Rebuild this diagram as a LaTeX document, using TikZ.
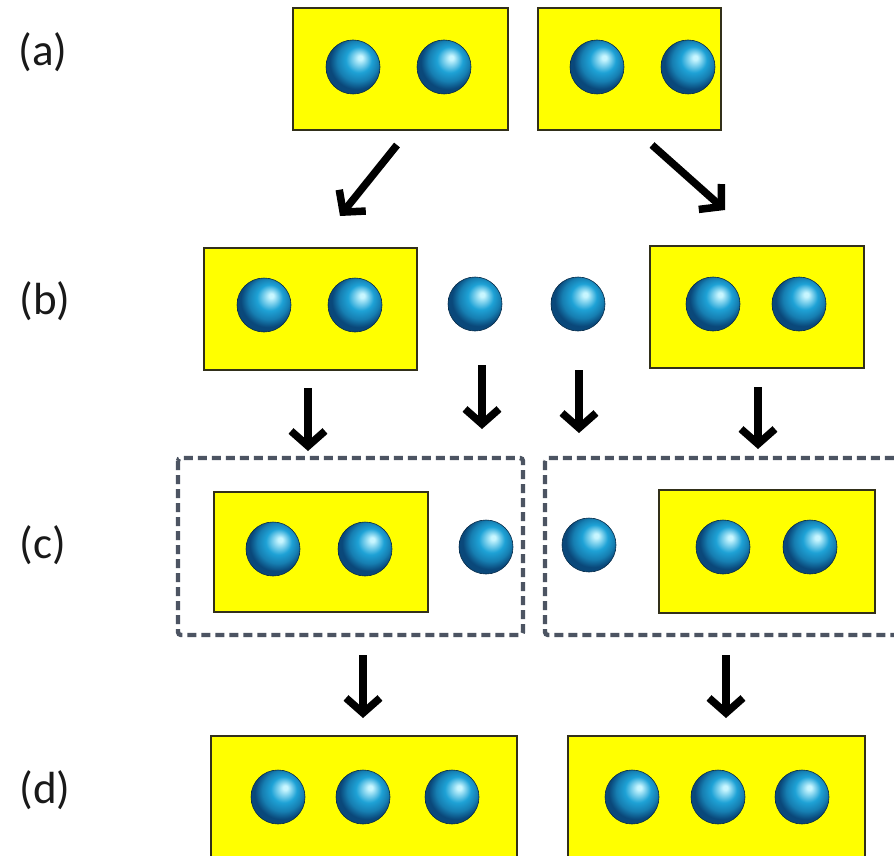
\documentclass[tikz,border=0pt]{standalone}
\usepackage{fontspec}
\setmainfont{Carlito}
\usetikzlibrary{arrows.meta}

\definecolor{boxyellow}{RGB}{255,255,0}
\definecolor{boxedge}{RGB}{50,48,26}
\definecolor{dashgray}{RGB}{76,84,98}
\definecolor{sphhi}{RGB}{200,246,255}
\definecolor{sphmid}{RGB}{30,162,214}
\definecolor{sphdk}{RGB}{10,72,122}

% glossy blue sphere, highlight towards the upper right
\pgfdeclareradialshading{bluesphere}{\pgfpoint{7bp}{9bp}}{%
  color(0bp)=(sphhi); color(2bp)=(sphhi); color(12bp)=(sphmid);
  color(19bp)=(sphmid!60!sphdk); color(25bp)=(sphdk); color(50bp)=(sphdk)}

\tikzset{
  ybox/.style={draw=boxedge, line width=2.8pt, fill=boxyellow, rectangle, inner sep=0pt},
  dbox/.style={draw=dashgray, line width=4.4pt, dash pattern=on 9pt off 5pt, rounded corners=3pt},
  sph/.style={circle, inner sep=0pt, minimum size=54pt, shading=bluesphere,
              draw=sphdk!60!black, line width=0.6pt},
  lbl/.style={font=\fontsize{45}{50}\selectfont, text=black!90, inner sep=0pt},
  flow/.style={line width=7.5pt, -{Straight Barb[length=15pt,width=34pt]}},
}

\begin{document}
\begin{tikzpicture}[x=1pt,y=-1pt]
\useasboundingbox (0,0) rectangle (894,856);
\clip (0,0) rectangle (894,856);
\fill[white] (0,0) rectangle (894,856);

% row labels
\node[lbl] (la) at (43,52) {(a)};
\node[lbl] (lb) at (45,301) {(b)};
\node[lbl] (lc) at (43,545) {(c)};
\node[lbl] (ld) at (45,790) {(d)};

% row (a)
\node[ybox, minimum width=215pt, minimum height=122pt] (a1) at (400.5,69) {};
\node[ybox, minimum width=183pt, minimum height=122pt] (a2) at (629.5,69) {};
\node[sph] (a1s1) at (353,67) {};
\node[sph] (a1s2) at (444,67) {};
\node[sph] (a2s1) at (597,67) {};
\node[sph] (a2s2) at (688,67) {};

% row (b)
\node[ybox, minimum width=213pt, minimum height=122pt] (b1) at (310.5,309) {};
\node[ybox, minimum width=214pt, minimum height=122pt] (b2) at (757,307) {};
\node[sph] (b1s1) at (264,305) {};
\node[sph] (b1s2) at (355,305) {};
\node[sph] (bf1) at (475,304) {};
\node[sph] (bf2) at (578,304) {};
\node[sph] (b2s1) at (713,304) {};
\node[sph] (b2s2) at (799,304) {};

% row (c)
\draw[dbox] (178,458) rectangle (523,635);
\draw[dbox] (545,458) rectangle (910,635);
\node[ybox, minimum width=214pt, minimum height=120pt] (c1b) at (321,552) {};
\node[ybox, minimum width=216pt, minimum height=123pt] (c2b) at (767,551.5) {};
\node[sph] (c1s1) at (273,549) {};
\node[sph] (c1s2) at (365,549) {};
\node[sph] (cf1) at (486,547) {};
\node[sph] (cf2) at (589,545) {};
\node[sph] (c2s1) at (723,547) {};
\node[sph] (c2s2) at (810,547) {};

% row (d)
\node[ybox, minimum width=306pt, minimum height=140pt] (d1) at (364,806) {};
\node[ybox, minimum width=297pt, minimum height=140pt] (d2) at (716.5,806) {};
\node[sph] (d1s1) at (278,797) {};
\node[sph] (d1s2) at (363,797) {};
\node[sph] (d1s3) at (452,797) {};
\node[sph] (d2s1) at (632,797) {};
\node[sph] (d2s2) at (718,797) {};
\node[sph] (d2s3) at (802,797) {};

% arrow end points
\coordinate (ab1s) at (397,145);  \coordinate (ab1e) at (340,216);
\coordinate (ab2s) at (652,145);  \coordinate (ab2e) at (725,210);
\coordinate (bc1s) at (308,388);  \coordinate (bc1e) at (308,451);
\coordinate (bc2s) at (482,365);  \coordinate (bc2e) at (482,429);
\coordinate (bc3s) at (579,370);  \coordinate (bc3e) at (579,433);
\coordinate (bc4s) at (758,387);  \coordinate (bc4e) at (758,449);
\coordinate (cd1s) at (363,655);  \coordinate (cd1e) at (363,718);
\coordinate (cd2s) at (726,655);  \coordinate (cd2e) at (726,718);

\draw[flow] (ab1s) -- (ab1e);
\draw[flow] (ab2s) -- (ab2e);
\draw[flow] (bc1s) -- (bc1e);
\draw[flow] (bc2s) -- (bc2e);
\draw[flow] (bc3s) -- (bc3e);
\draw[flow] (bc4s) -- (bc4e);
\draw[flow] (cd1s) -- (cd1e);
\draw[flow] (cd2s) -- (cd2e);
\end{tikzpicture}
\end{document}
